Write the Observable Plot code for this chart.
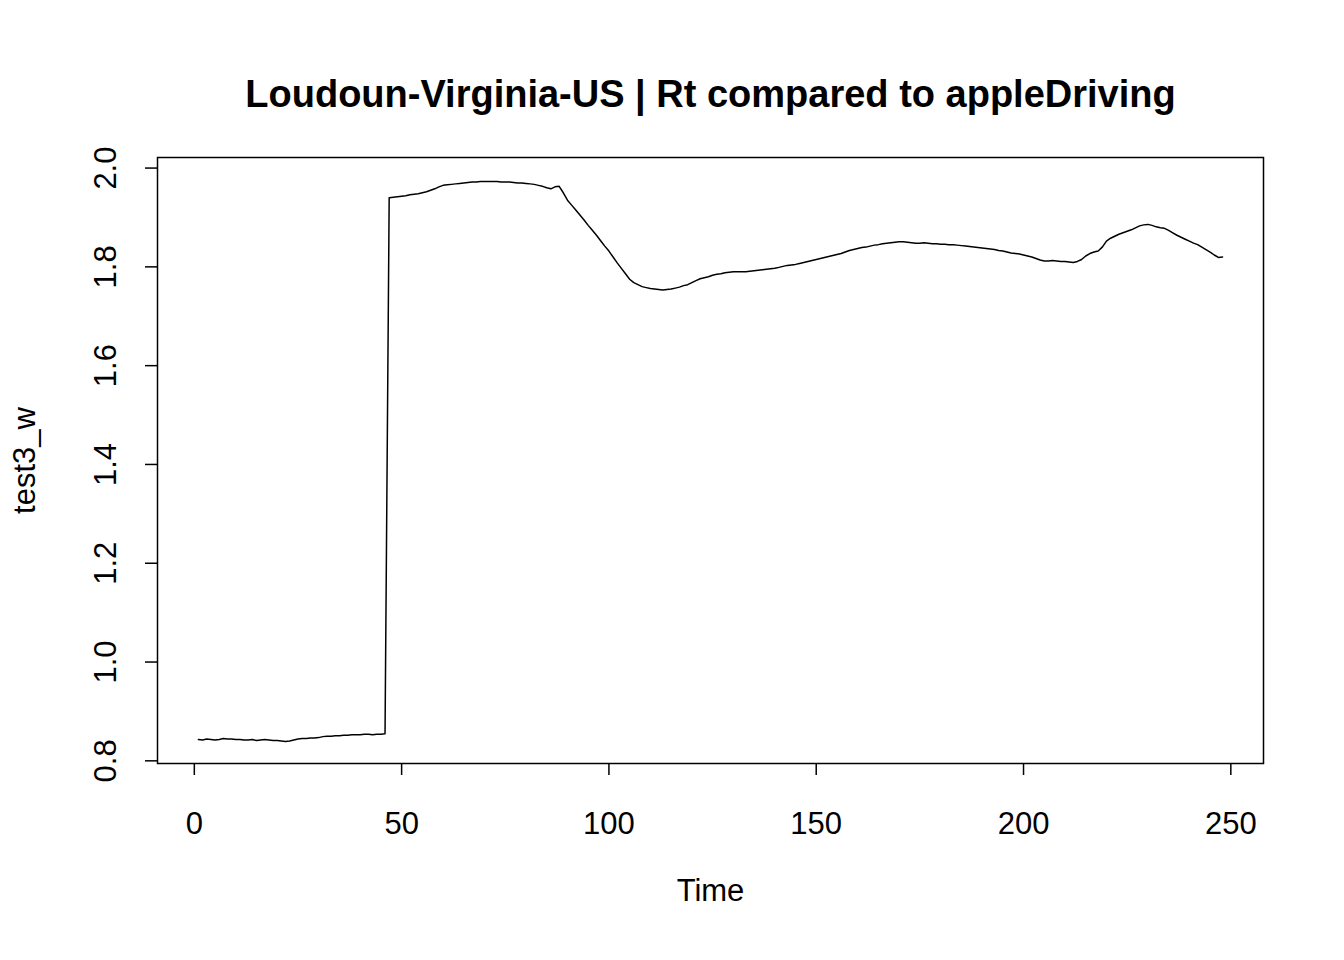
<!DOCTYPE html>
<html>
<head>
<meta charset="utf-8">
<script src="https://cdn.jsdelivr.net/npm/d3@7"></script>
<script src="https://cdn.jsdelivr.net/npm/@observablehq/plot@0.6"></script>
<style>
  body { margin: 0; background: #fff; }
  svg { font-family: "Liberation Sans", Arial, sans-serif; }
</style>
</head>
<body>
<div id="chart"></div>
<script>
const title = "Loudoun-Virginia-US | Rt compared to appleDriving";
const xTicks = [0, 50, 100, 150, 200, 250];
const yTicks = [0.8, 1.0, 1.2, 1.4, 1.6, 1.8, 2.0];
const values = [
  0.843,0.842,0.844,0.843,0.842,0.843,0.845,0.844,0.844,0.843,
  0.843,0.842,0.842,0.843,0.841,0.842,0.843,0.842,0.841,0.841,
  0.840,0.839,0.840,0.842,0.844,0.845,0.845,0.846,0.846,0.847,
  0.849,0.850,0.850,0.851,0.851,0.852,0.852,0.853,0.853,0.853,
  0.854,0.854,0.853,0.854,0.854,0.855,
  1.940,1.941,1.942,1.943,
  1.944,1.946,1.947,1.948,1.950,1.952,1.955,1.958,1.962,1.965,
  1.966,1.967,1.968,1.969,1.970,1.971,1.972,1.972,1.973,1.973,
  1.973,1.973,1.973,1.972,1.972,1.972,1.971,1.970,1.970,1.969,
  1.968,1.967,1.965,1.963,1.960,1.958,1.962,1.963,1.950,1.935,
  1.925,1.915,1.905,1.895,1.884,1.874,1.864,1.853,1.842,1.832,
  1.820,1.808,1.797,1.786,1.775,1.768,1.764,1.760,1.758,1.756,
  1.755,1.754,1.753,1.754,1.755,1.757,1.759,1.762,1.764,1.768,
  1.772,1.776,1.778,1.780,1.783,1.785,1.786,1.788,1.789,1.790,
  1.790,1.790,1.790,1.791,1.792,1.793,1.794,1.795,1.796,1.797,
  1.799,1.801,1.803,1.804,1.805,1.807,1.809,1.811,1.813,1.815,
  1.817,1.819,1.821,1.823,1.825,1.827,1.830,1.833,1.835,1.837,
  1.839,1.840,1.842,1.844,1.845,1.847,1.848,1.849,1.850,1.851,
  1.851,1.850,1.849,1.848,1.848,1.849,1.848,1.847,1.847,1.846,
  1.846,1.845,1.845,1.844,1.843,1.842,1.841,1.840,1.839,1.838,
  1.837,1.836,1.835,1.833,1.832,1.830,1.828,1.827,1.826,1.824,
  1.822,1.820,1.817,1.814,1.812,1.812,1.813,1.812,1.811,1.811,
  1.810,1.809,1.811,1.815,1.822,1.827,1.830,1.832,1.840,1.852,
  1.858,1.862,1.866,1.869,1.872,1.875,1.879,1.883,1.885,1.886,
  1.884,1.881,1.879,1.878,1.874,1.869,1.864,1.860,1.856,1.852,
  1.848,1.845,1.840,1.835,1.830,1.824,1.819,1.820
];
const data = values.map((v, i) => ({t: i + 1, v}));

const chart = Plot.plot({
  width: 1344,
  height: 960,
  marginLeft: 157,
  marginRight: 81,
  marginTop: 157,
  marginBottom: 197,
  style: {fontSize: "31px", color: "#000", background: "#fff"},
  x: {domain: [-8.88, 257.88], ticks: xTicks},
  y: {domain: [0.7946, 2.0214], ticks: yTicks},
  marks: [
    Plot.frame({stroke: "#000", strokeWidth: 1.5}),
    Plot.axisX(xTicks, {anchor: "bottom", tickSize: 12, tickPadding: 36, fontSize: 31, label: null, strokeWidth: 1.5}),
    Plot.axisY(yTicks, {anchor: "left", tickSize: 12, tickPadding: 30, fontSize: 31, tickRotate: -90, label: null, strokeWidth: 1.5, tickFormat: d3.format(".1f")}),
    Plot.line(data, {x: "t", y: "v", stroke: "#000", strokeWidth: 1.5}),
    Plot.text([title], {frameAnchor: "top", dy: -77, fontSize: 38, fontWeight: "bold", fill: "#000"}),
    Plot.text(["Time"], {frameAnchor: "bottom", dy: 137, fontSize: 31, fill: "#000"}),
    Plot.text(["test3_w"], {frameAnchor: "left", dx: -132, rotate: -90, textAnchor: "middle", fontSize: 31, fill: "#000"})
  ]
});
document.getElementById("chart").append(chart);
</script>
</body>
</html>
